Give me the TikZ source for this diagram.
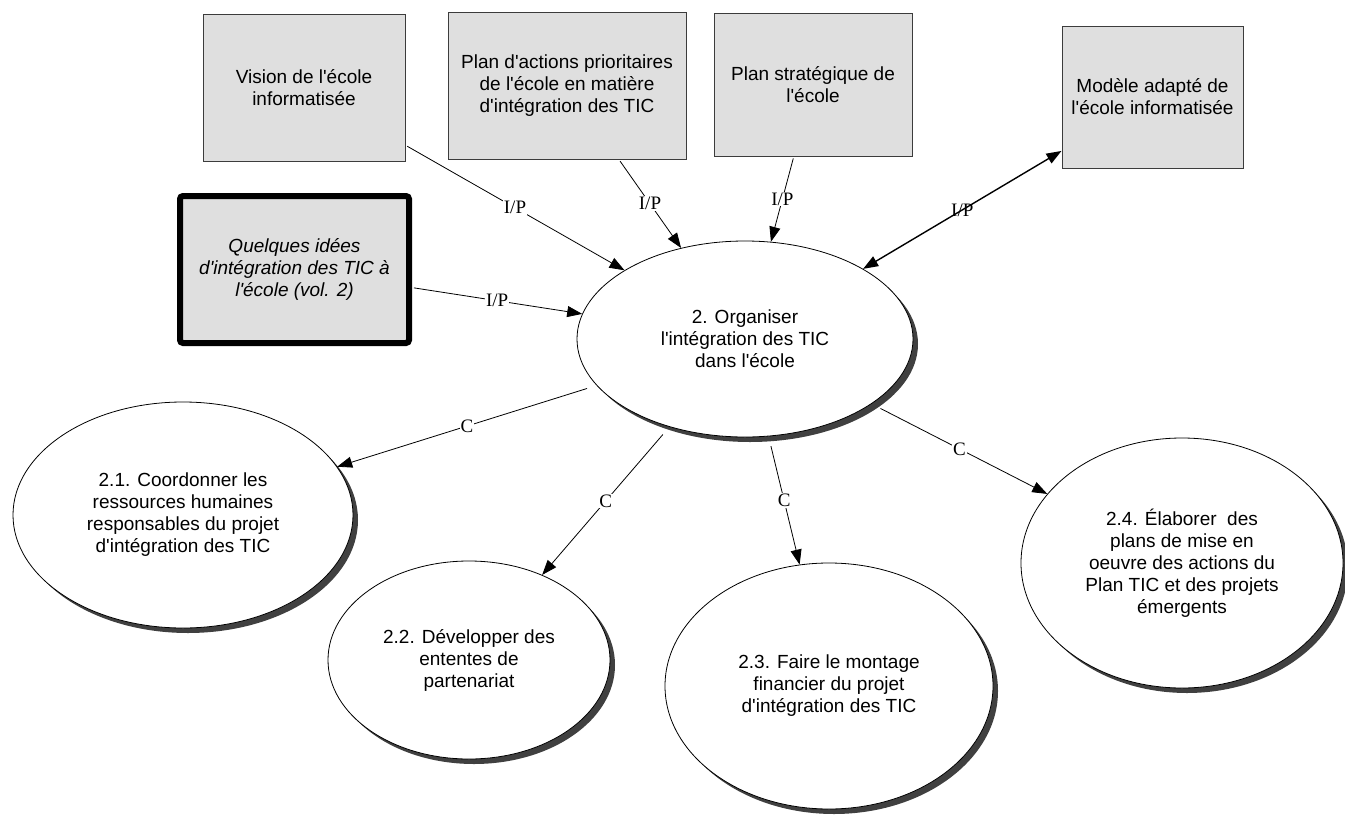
\documentclass[tikz,border=0pt]{standalone}
\usepackage{fontspec}
\newfontfamily\boxfont{Liberation Sans}
\newfontfamily\lblfont{Liberation Serif}
\usetikzlibrary{arrows.meta,shapes.geometric,shadows}
\definecolor{boxgray}{HTML}{DFDFDF}
\definecolor{boxline}{HTML}{3C3C3C}
\definecolor{shade}{HTML}{404040}

\begin{document}
\begin{tikzpicture}[x=1pt,y=-1pt,
  txt/.style={font=\boxfont\fontsize{19}{22}\selectfont, align=center, text=black},
  source/.style={txt, draw=boxline, line width=1pt, fill=boxgray, inner sep=0pt},
  guide/.style={txt, draw=black, line width=6pt, fill=boxgray, rounded corners=3pt,
    inner sep=0pt, font=\boxfont\itshape\fontsize{19}{22}\selectfont},
  process/.style={txt, ellipse, draw=black, line width=0.8pt, fill=white, inner sep=0pt,
    drop shadow={shadow xshift=5pt, shadow yshift=-5pt, fill=shade, opacity=1}},
  link/.style={line width=0.8pt, shorten <=2pt, -{Triangle[length=15pt,width=11pt]}},
  sublink/.style={link, shorten <=10pt},
  duplex/.style={line width=1.4pt, {Triangle[length=15pt,width=11pt]}-{Triangle[length=15pt,width=11pt]}},
  tag/.style={font=\lblfont\fontsize{19}{22}\selectfont, fill=white, inner sep=1pt},
]
\useasboundingbox (0,0) rectangle (1345,817);

% input documents
\node[source, minimum width=202pt, minimum height=147pt] (vision) at (304,87.5)
  {Vision de l'école\\informatisée};
\node[source, minimum width=238pt, minimum height=147pt] (plan) at (567,85.5)
  {Plan d'actions prioritaires\\de l'école en matière\\d'intégration des TIC};
\node[source, minimum width=198pt, minimum height=143pt] (strat) at (813,84.5)
  {Plan stratégique de\\l'école};
\node[source, minimum width=181pt, minimum height=142pt] (modele) at (1152.5,97)
  {Modèle adapté de\\l'école informatisée};
\node[guide, minimum width=229pt, minimum height=147pt] (idees) at (294.5,269.5)
  {Quelques idées\\d'intégration des TIC à\\l'école (vol. 2)};

% processes
\node[process, minimum width=336pt, minimum height=196pt] (main) at (745,339)
  {2. Organiser\\l'intégration des TIC\\dans l'école};
\node[process, minimum width=340pt, minimum height=226pt] (coord) at (183,515)
  {2.1. Coordonner les\\ressources humaines\\responsables du projet\\d'intégration des TIC};
\node[process, minimum width=282pt, minimum height=198pt] (partner) at (469,660)
  {2.2. Développer des\\ententes de\\partenariat};
\node[process, minimum width=328pt, minimum height=246pt] (finance) at (829,686)
  {2.3. Faire le montage\\financier du projet\\d'intégration des TIC};
\node[process, minimum width=322pt, minimum height=250pt] (plans) at (1182,563)
  {2.4. Élaborer~ des\\plans de mise en\\oeuvre des actions du\\Plan TIC et des projets\\émergents};

% inputs into the main process
\draw[link] (vision) -- node[tag]{I/P} (main);
\draw[link] (plan) -- node[tag]{I/P} (main);
\draw[link] (strat) -- node[tag]{I/P} (main);
\draw[link] (idees) -- node[tag]{I/P} (main);
\draw[duplex] (modele) -- node[tag, fill=none]{I/P} (main);

% sub-processes
\draw[sublink] (main) -- node[tag]{C} (coord);
\draw[sublink] (main) -- node[tag]{C} (partner);
\draw[sublink] (main) -- node[tag]{C} (finance);
\draw[sublink] (main) -- node[tag]{C} (plans);
\end{tikzpicture}
\end{document}
